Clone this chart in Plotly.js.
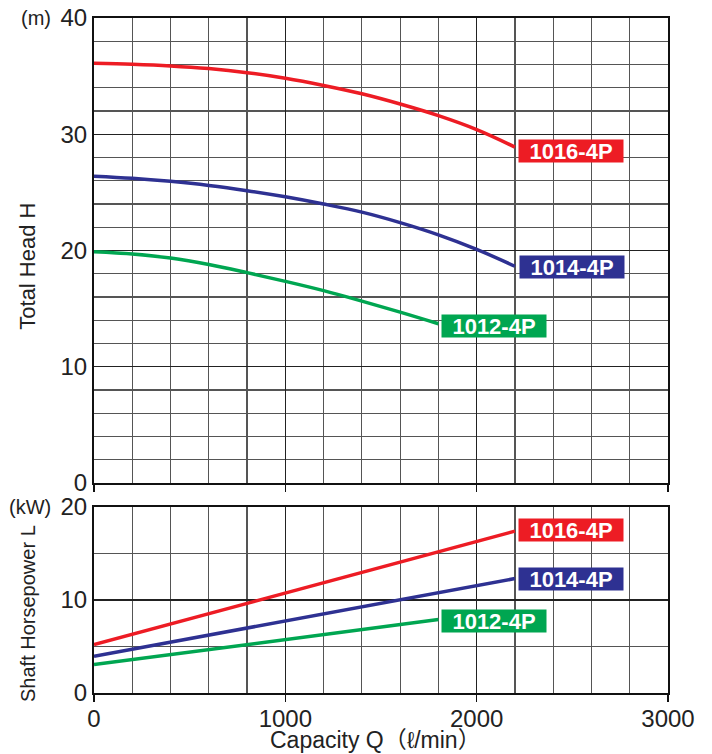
<!DOCTYPE html>
<html>
<head>
<meta charset="utf-8">
<script src="https://cdn.plot.ly/plotly-3.0.1.min.js"></script>
<style>html,body{margin:0;padding:0;background:#fff;}#chart{width:712px;height:754px;}</style>
</head>
<body>
<div id="chart"></div>
<script>
// Data
const models = ["1016-4P", "1014-4P", "1012-4P"];
const colors = ["#ed1c24", "#2e3192", "#00a651"];

const qHead16 = [0, 200, 400, 600, 800, 1000, 1200, 1400, 1600, 1800, 2000, 2200];
const head16  = [36.1, 36.02, 35.88, 35.65, 35.3, 34.82, 34.2, 33.48, 32.6, 31.6, 30.4, 28.9];
const qHead14 = [0, 200, 400, 600, 800, 1000, 1200, 1400, 1600, 1800, 2000, 2200];
const head14  = [26.4, 26.22, 25.95, 25.6, 25.15, 24.62, 24.0, 23.3, 22.4, 21.35, 20.1, 18.65];
const qHead12 = [0, 200, 400, 600, 800, 1000, 1200, 1400, 1600, 1800];
const head12  = [19.9, 19.7, 19.35, 18.8, 18.1, 17.35, 16.55, 15.65, 14.7, 13.7];

const qPow16 = [0, 2200];
const pow16  = [5.2, 17.4];
const qPow14 = [0, 2200];
const pow14  = [3.95, 12.3];
const qPow12 = [0, 1800];
const pow12  = [3.05, 7.9];

const xTickVals = [0, 1000, 2000, 3000];
const headTickVals = [0, 10, 20, 30, 40];
const powTickVals = [0, 10, 20];

const xTitle = "Capacity Q\uFF08\u2113/min\uFF09";
const headTitle = "Total Head H";
const powTitle = "Shaft Horsepower L";
const headUnit = "(m)";
const powUnit = "(kW)";

// label placement (data coords of box centres)
const headLabelPos = [[2495, 28.6], [2497, 18.6], [2093, 13.5]];
const powLabelPos  = [[2493, 17.5], [2495, 12.3], [2093, 7.7]];

const FONT = "Liberation Sans, Arial, Noto Sans CJK JP, sans-serif";

const headSeries = [[qHead16, head16], [qHead14, head14], [qHead12, head12]];
const powSeries  = [[qPow16, pow16], [qPow14, pow14], [qPow12, pow12]];

const traces = [];
headSeries.forEach((s, i) => traces.push({
  x: s[0], y: s[1], type: "scatter", mode: "lines", line: {color: colors[i], width: 3.5, shape: "spline", smoothing: 1},
  xaxis: "x", yaxis: "y", showlegend: false, hoverinfo: "skip", name: models[i]
}));
powSeries.forEach((s, i) => traces.push({
  x: s[0], y: s[1], type: "scatter", mode: "lines", line: {color: colors[i], width: 3.5},
  xaxis: "x2", yaxis: "y2", showlegend: false, hoverinfo: "skip", name: models[i]
}));

const annotations = [];
models.forEach((m, i) => {
  annotations.push({xref: "x", yref: "y", x: headLabelPos[i][0], y: headLabelPos[i][1], text: "<b>" + m + "</b>",
    showarrow: false, bgcolor: colors[i], font: {family: FONT, size: 22, color: "#fff"}, borderpad: 0,
    xanchor: "center", yanchor: "middle", width: 104, height: 22});
  annotations.push({xref: "x2", yref: "y2", x: powLabelPos[i][0], y: powLabelPos[i][1], text: "<b>" + m + "</b>",
    showarrow: false, bgcolor: colors[i], font: {family: FONT, size: 22, color: "#fff"}, borderpad: 0,
    xanchor: "center", yanchor: "middle", width: 104, height: 22});
});
// units next to top tick labels
annotations.push({xref: "paper", yref: "paper", x: -0.072, y: 1.0, text: headUnit, showarrow: false,
  font: {family: FONT, size: 20, color: "#222"}, xanchor: "right", yanchor: "middle"});
annotations.push({xref: "paper", yref: "paper", x: -0.072, y: 0.2756, text: powUnit, showarrow: false,
  font: {family: FONT, size: 20, color: "#222"}, xanchor: "right", yanchor: "middle"});
// axis titles
annotations.push({xref: "paper", yref: "paper", x: -0.115, y: 0.633, text: headTitle, showarrow: false, textangle: -90,
  font: {family: FONT, size: 22, color: "#222"}, xanchor: "center", yanchor: "middle"});
annotations.push({xref: "paper", yref: "paper", x: -0.115, y: 0.1185, text: powTitle, showarrow: false, textangle: -90,
  font: {family: FONT, size: 20, color: "#222"}, xanchor: "center", yanchor: "middle"});
annotations.push({xref: "paper", yref: "paper", x: 0.49, y: -0.07, text: xTitle, showarrow: false,
  font: {family: FONT, size: 23, color: "#222"}, xanchor: "center", yanchor: "middle"});

const majorGrid = "#222";
const minorGrid = "#555";

const xCommon = {
  range: [0, 3000], tickmode: "array", tickvals: xTickVals,
  showline: true, mirror: true, linecolor: "#111", linewidth: 2,
  showgrid: true, gridcolor: majorGrid, gridwidth: 1.2,
  ticks: "outside", ticklen: 7, tickcolor: "#111", tickwidth: 1.5,
  minor: {dtick: 200, tick0: 0, showgrid: true, gridcolor: minorGrid, gridwidth: 1.2, ticks: ""},
  zeroline: false, fixedrange: true,
  tickfont: {family: FONT, size: 24, color: "#222"}
};

const layout = {
  width: 712, height: 754,
  margin: {l: 94, r: 44, t: 18, b: 61},
  paper_bgcolor: "#fff", plot_bgcolor: "#fff",
  font: {family: FONT, color: "#222"},
  xaxis: Object.assign({}, xCommon, {anchor: "y", showticklabels: false}),
  xaxis2: Object.assign({}, xCommon, {anchor: "y2", matches: "x", ticklabelstandoff: -4}),
  yaxis: {
    domain: [0.311, 1], range: [0, 40], tickmode: "array", tickvals: headTickVals,
    showline: true, mirror: true, linecolor: "#111", linewidth: 2,
    showgrid: true, gridcolor: majorGrid, gridwidth: 1.2,
    minor: {dtick: 2, tick0: 0, showgrid: true, gridcolor: minorGrid, gridwidth: 1.2, ticks: ""},
    ticks: "", zeroline: false, fixedrange: true,
    tickfont: {family: FONT, size: 24, color: "#222"}
  },
  yaxis2: {
    domain: [0, 0.2756], range: [0, 20], tickmode: "array", tickvals: powTickVals,
    showline: true, mirror: true, linecolor: "#111", linewidth: 2,
    showgrid: true, gridcolor: majorGrid, gridwidth: 1.2,
    minor: {dtick: 5, tick0: 0, showgrid: true, gridcolor: minorGrid, gridwidth: 1.2, ticks: ""},
    ticks: "", zeroline: false, fixedrange: true,
    tickfont: {family: FONT, size: 24, color: "#222"}
  },
  annotations: annotations,
  showlegend: false
};

Plotly.newPlot("chart", traces, layout, {displayModeBar: false, staticPlot: true});
</script>
</body>
</html>
